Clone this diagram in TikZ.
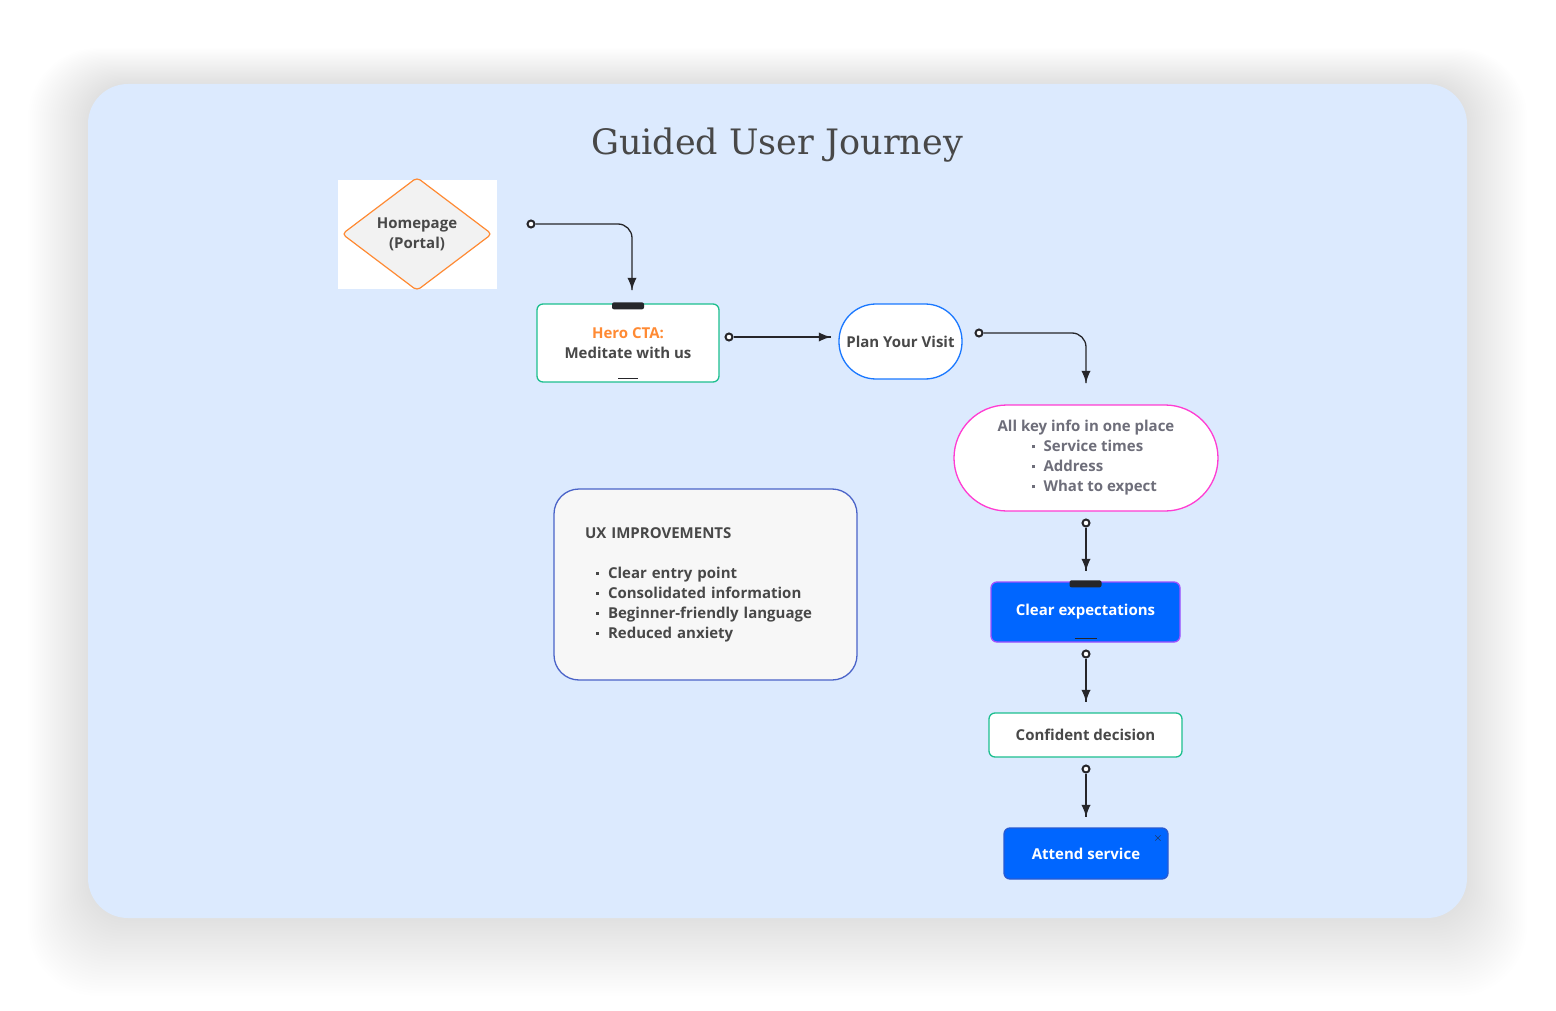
\documentclass[tikz,border=0pt]{standalone}
\usepackage{fontspec}
\setsansfont{Open Sans}
\newfontfamily\titlefont{DejaVu Serif}
\usetikzlibrary{arrows}
\usetikzlibrary{decorations.markings}
\usetikzlibrary{positioning}
\usetikzlibrary{shapes.geometric}
\definecolor{cardbg}{RGB}{220,234,254}
\definecolor{textc}{RGB}{72,72,72}
\definecolor{infoc}{RGB}{110,110,122}
\definecolor{linec}{RGB}{38,38,42}
\definecolor{greenc}{RGB}{29,191,143}
\definecolor{orangec}{RGB}{255,138,51}
\definecolor{planc}{RGB}{26,120,255}
\definecolor{magc}{RGB}{255,60,210}
\definecolor{bluefill}{RGB}{0,102,255}
\definecolor{purplec}{RGB}{160,80,255}
\definecolor{uxc}{RGB}{74,99,200}
\definecolor{attendc}{RGB}{40,90,210}
\newcommand{\sqb}{\raisebox{3.5pt}{\rule{3pt}{3pt}}\hspace{9pt}}
\tikzset{dot/.style = {draw=linec, fill=white, circle, inner sep=0, minimum size=7, line width=2}}
\tikzset{flow/.style = {draw=linec, line width=1.3, rounded corners=14,
                        decoration={markings, mark=at position 1 with {\arrow[scale=1.8]{latex}}},
                        postaction={decorate}}}
\tikzset{txt/.style = {font=\sffamily\bfseries\fontsize{15}{20}\selectfont, text=textc}}
\tikzset{box/.style = {txt, draw, fill=white, rounded corners=6, line width=1.3, inner sep=0}}
\tikzset{tab/.style = {fill=linec, rounded corners=2}}

\begin{document}
\begin{tikzpicture}[x=1pt, y=-1pt]
  \useasboundingbox [fill=white] (0, 0) rectangle (1556, 1011);
  \foreach \i in {1,...,30}
    \fill [black, opacity=0.0045, rounded corners=40+\i]
      (88-2*\i, 84-1.2*\i) rectangle (1467+2*\i, 918+2.6*\i);
  \fill [cardbg, rounded corners=40] (88, 84) rectangle (1467, 918);
  \node [font=\titlefont\fontsize{35}{40}\selectfont, text=textc] (title) at (777, 145) {Guided User Journey};

  \node [fill=white, minimum width=159, minimum height=109, inner sep=0] (homeimg) at (417.5, 234.5) {};
  \node [txt, diamond, draw=orangec, fill=black!5, line width=1.2, rounded corners=4,
         minimum width=150, minimum height=108, inner sep=0, align=center] (home) at (417, 234)
        {Homepage\\(Portal)};

  \node [box, draw=greenc, minimum width=182, minimum height=78, align=center] (hero) at (628, 343)
        {\textcolor{orangec}{Hero CTA:}\\Meditate with us};
  \fill [tab] ([xshift=-16]hero.north) ++(0, -1) rectangle ++(32, 7);
  \draw [linec, line width=1] ([xshift=-10, yshift=4]hero.south) -- ++(20, 0);

  \node [box, draw=planc, rounded corners=37, minimum width=123, minimum height=75] (plan) at (900.5, 341.5)
        {Plan Your Visit};

  \node [box, draw=magc, rounded corners=53, minimum width=264, minimum height=106, align=left,
         text=infoc] (info) at (1086, 458)
        {All key info in one place\\
         \hspace*{34pt}\sqb Service times\\
         \hspace*{34pt}\sqb Address\\
         \hspace*{34pt}\sqb What to expect};

  \node [box, draw=purplec, fill=bluefill, text=white, minimum width=189, minimum height=60] (clear) at (1085.5, 612)
        {Clear expectations};
  \fill [tab] ([xshift=-16]clear.north) ++(0, -1) rectangle ++(32, 7);
  \draw [linec, line width=1] ([xshift=-11, yshift=4]clear.south) -- ++(22, 0);

  \node [box, draw=greenc, minimum width=193, minimum height=44] (confident) at (1085.5, 735)
        {Confident decision};

  \node [box, draw=attendc, fill=bluefill, text=white, minimum width=164, minimum height=51] (attend) at (1086, 853.5)
        {Attend service};
  \node [font=\sffamily\bfseries\fontsize{12}{12}\selectfont, text=linec, inner sep=0] (close) at (1158, 838) {$\times$};

  \node [box, draw=uxc, fill=black!3, rounded corners=25, minimum width=303, minimum height=191,
         text width=241, inner xsep=31, align=left] (ux) at (705.5, 584.5)
        {UX IMPROVEMENTS\\[20pt]
         \hspace*{11pt}\sqb Clear entry point\\
         \hspace*{11pt}\sqb Consolidated information\\
         \hspace*{11pt}\sqb Beginner-friendly language\\
         \hspace*{11pt}\sqb Reduced anxiety};

  \node [dot] (d1) at (531, 224) {};
  \coordinate (a1) at (632, 290);
  \node [dot] (d2) at (729, 337) {};
  \coordinate (a2) at (831, 337);
  \node [dot] (d3) at (979, 333) {};
  \coordinate (a3) at (1086, 383);
  \node [dot] (d4) at (1086, 523) {};
  \coordinate (a4) at (1086, 571);
  \node [dot] (d5) at (1086, 654) {};
  \coordinate (a5) at (1086, 702);
  \node [dot] (d6) at (1086, 769) {};
  \coordinate (a6) at (1086, 817);
  \draw [flow] (d1.east) -| (a1);
  \draw [flow] (d2.east) -- (a2);
  \draw [flow] (d3.east) -| (a3);
  \draw [flow] (d4.south) -- (a4);
  \draw [flow] (d5.south) -- (a5);
  \draw [flow] (d6.south) -- (a6);
\end{tikzpicture}
\end{document}
